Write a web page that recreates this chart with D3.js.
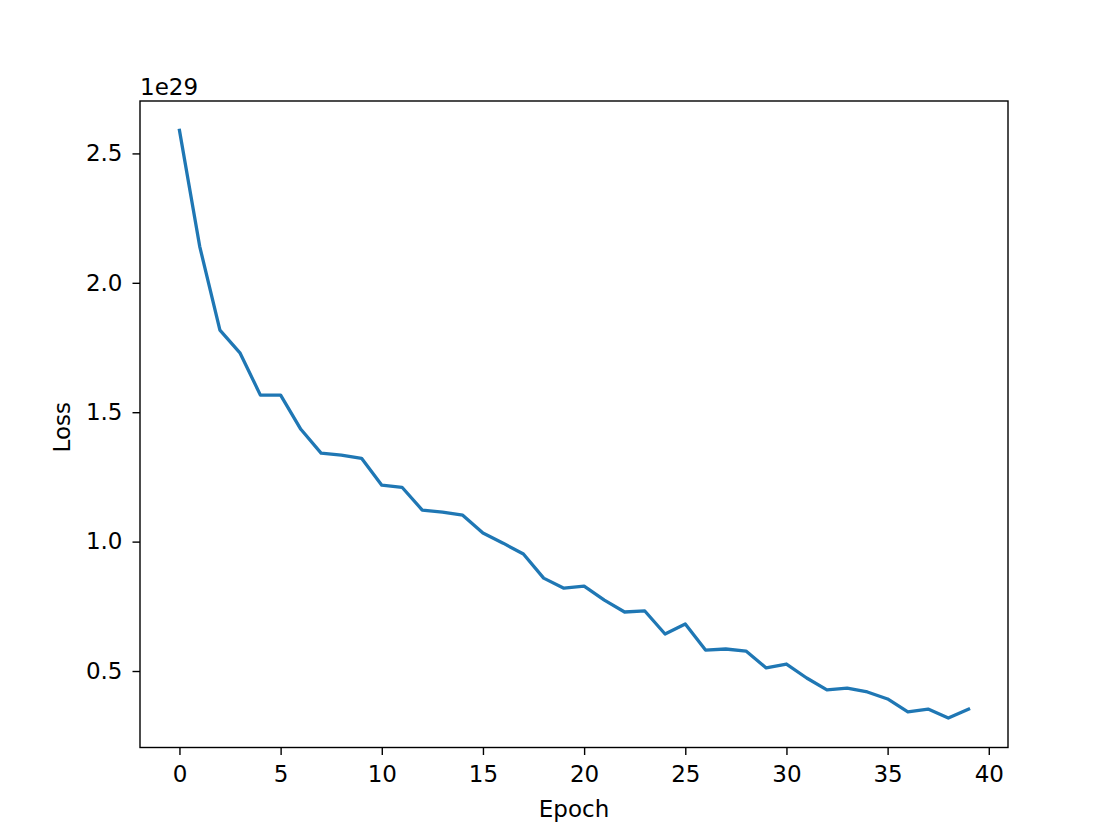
<!DOCTYPE html>
<html><head><meta charset="utf-8">
<script src="https://cdn.jsdelivr.net/npm/d3@7"></script>
<style>
body{margin:0;background:#fff;}
text{font-family:"DejaVu Sans",sans-serif;fill:#000;}
</style></head>
<body><svg id="c" width="1120" height="840"></svg>
<script>
const epochs = d3.range(40);
const loss = [2.589,2.141,1.817,1.728,1.566,1.566,1.434,1.342,1.334,1.322,
  1.218,1.210,1.122,1.114,1.102,1.033,0.994,0.952,0.859,0.820,
  0.828,0.774,0.728,0.732,0.643,0.682,0.581,0.585,0.577,0.512,
  0.527,0.473,0.427,0.434,0.419,0.392,0.342,0.353,0.318,0.353];
const xTicks = [0,5,10,15,20,25,30,35,40];
const yTicks = [0.5,1.0,1.5,2.0,2.5];
const xLabel = "Epoch", yLabel = "Loss", offsetText = "1e29";

const svg = d3.select("#c");
const L=140,R=1008,T=101,B=747.5;
const xmin=d3.min(epochs), xmax=d3.max(epochs), xm=(xmax-xmin)*0.05;
const ymin=d3.min(loss), ymax=d3.max(loss), ym=(ymax-ymin)*0.05;
const x=d3.scaleLinear().domain([xmin-xm,xmax+xm]).range([L,R]);
const y=d3.scaleLinear().domain([ymin-ym,ymax+ym]).range([B,T]);
const fs=23;
const xa=svg.append("g").attr("transform",`translate(0,${B})`)
  .call(d3.axisBottom(x).tickValues(xTicks).tickFormat(d3.format("d")).tickSizeOuter(0).tickSize(7.5).tickPadding(11));
const ya=svg.append("g").attr("transform",`translate(${L},0)`)
  .call(d3.axisLeft(y).tickValues(yTicks).tickFormat(d3.format(".1f")).tickSizeOuter(0).tickSize(7.5).tickPadding(10));
[xa,ya].forEach(a=>{a.select(".domain").remove();a.selectAll("line").attr("stroke","#000").attr("stroke-width",1.4);
  a.selectAll("text").style("font-size",fs+"px").style("font-family","DejaVu Sans");});
svg.append("path").datum(epochs.map((e,i)=>[e,loss[i]]))
  .attr("d",d3.line().x(d=>x(d[0])).y(d=>y(d[1])))
  .attr("fill","none").attr("stroke","#1f77b4").attr("stroke-width",3.3).attr("stroke-linejoin","round").attr("stroke-linecap","square");
svg.append("rect").attr("x",L).attr("y",T).attr("width",R-L).attr("height",B-T)
  .attr("fill","none").attr("stroke","#000").attr("stroke-width",1.4);
svg.append("text").attr("x",(L+R)/2).attr("y",817).attr("text-anchor","middle").style("font-size",fs+"px").text(xLabel);
svg.append("text").attr("transform",`translate(70,${(T+B)/2+3}) rotate(-90)`).attr("text-anchor","middle").style("font-size",fs+"px").text(yLabel);
svg.append("text").attr("x",L).attr("y",95).style("font-size",fs+"px").text(offsetText);
</script></body></html>
